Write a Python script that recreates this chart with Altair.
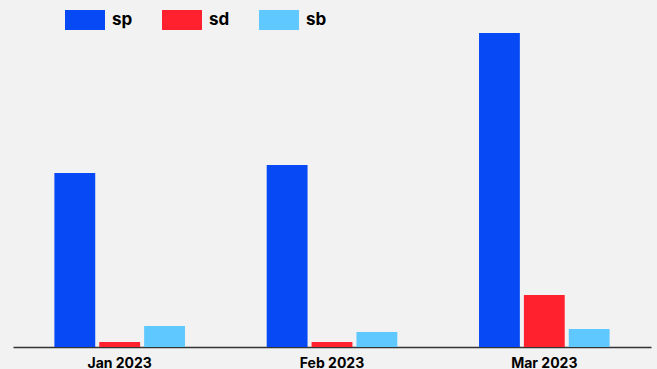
import altair as alt
import pandas as pd

months = ["Jan 2023", "Feb 2023", "Mar 2023"]
series = ["sp", "sd", "sb"]
sp = [174, 182, 314]
sd = [5, 5, 52]
sb = [21, 15, 18]
colors = ["#0649F5", "#FF222E", "#5EC8FF"]

rows = []
for i, m in enumerate(months):
    for s, vals in zip(series, [sp, sd, sb]):
        rows.append({"month": m, "series": s, "value": vals[i]})
df = pd.DataFrame(rows)

FONT = "Inter"

chart = alt.Chart(df).mark_bar().encode(
    x=alt.X("month:N", sort=months,
            scale=alt.Scale(paddingInner=0.385, paddingOuter=0.195),
            axis=alt.Axis(title=None, labelAngle=0, ticks=False,
                          labelFont=FONT, labelFontWeight="bold", labelFontSize=14,
                          labelColor="#000", labelPadding=9,
                          domainColor="#333", domainWidth=1.5)),
    xOffset=alt.XOffset("series:N", sort=series,
                        scale=alt.Scale(paddingInner=0.09, paddingOuter=0)),
    y=alt.Y("value:Q", scale=alt.Scale(domain=[0, 314], nice=False), axis=None),
    color=alt.Color("series:N", sort=series,
                    scale=alt.Scale(domain=series, range=colors),
                    legend=alt.Legend(title=None, orient="none", legendX=52, legendY=-33,
                                      direction="horizontal", columns=3,
                                      symbolType="M-1,-0.5H1V0.5H-1Z", symbolSize=1600,
                                      symbolStrokeWidth=0, symbolOpacity=1,
                                      labelFont=FONT, labelFontWeight="bold",
                                      labelFontSize=17, labelColor="#000",
                                      labelOffset=7, columnPadding=29)),
).properties(
    width=638, height=314,
    background="#f2f2f2",
    padding={"left": 13, "top": 33, "right": 6, "bottom": 22},
    autosize=alt.AutoSizeParams(type="none"),
).configure_view(stroke=None)

chart.save("out.html", embed_options={"renderer": "svg", "actions": False})
